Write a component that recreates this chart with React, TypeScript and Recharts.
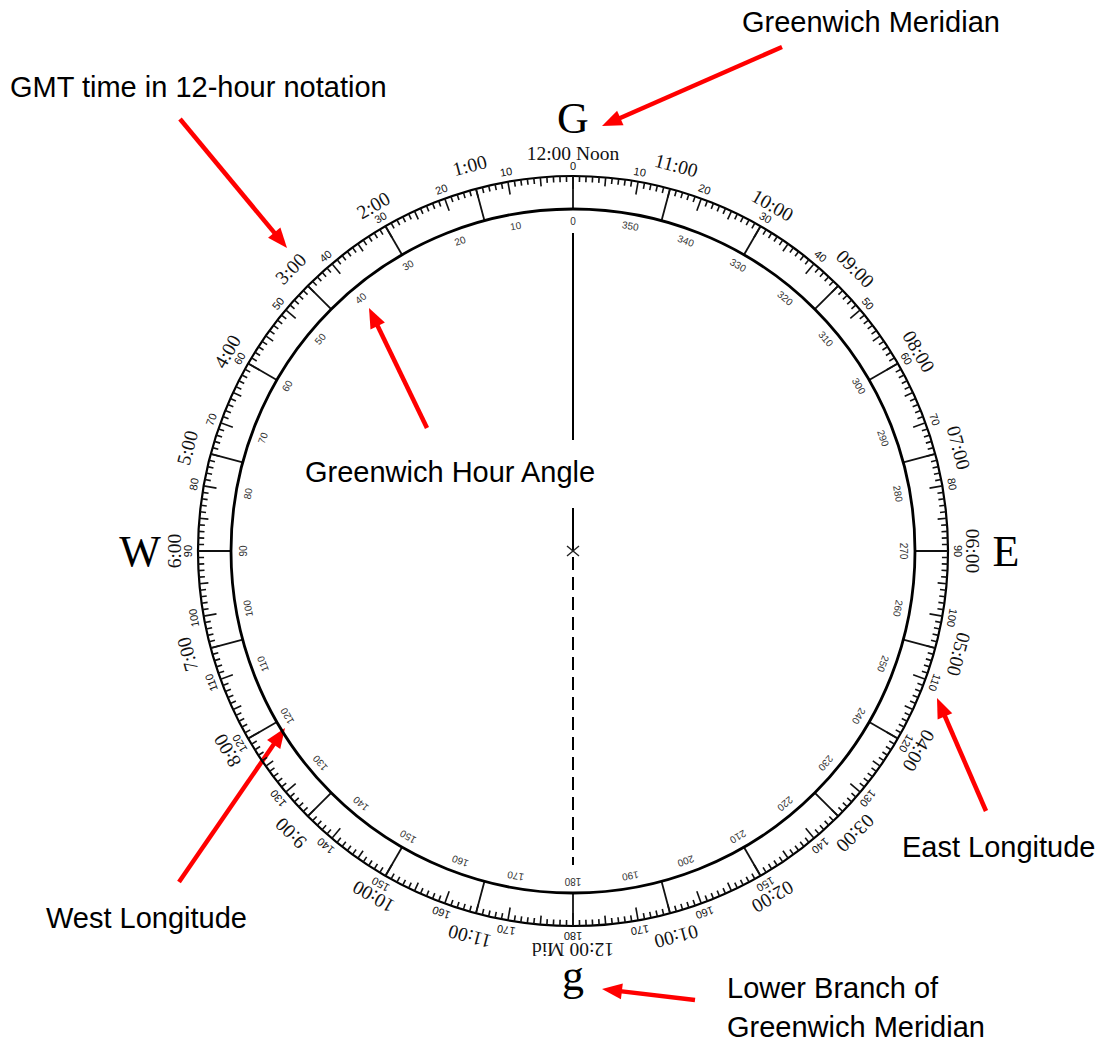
import React from 'react';
import { ScatterChart, Scatter, XAxis, YAxis, ReferenceLine, ReferenceDot } from 'recharts';

const WIDTH = 1101;
const HEIGHT = 1043;
// pixel position of the dial centre, the axes are laid out 1 unit = 1 px around it
const CENTER_X = 573;
const CENTER_Y = 551;

const OUTER_R = 375;
const INNER_R = 342;

const LONGITUDE_LABELS = [0, 10, 20, 30, 40, 50, 60, 70, 80, 90, 100, 110, 120, 130, 140, 150, 160, 170, 180];
const GHA_LABELS = [
  0, 10, 20, 30, 40, 50, 60, 70, 80, 90, 100, 110, 120, 130, 140, 150, 160, 170, 180,
  190, 200, 210, 220, 230, 240, 250, 260, 270, 280, 290, 300, 310, 320, 330, 340, 350,
];
const HOURS_WEST = ['1:00', '2:00', '3:00', '4:00', '5:00', '6:00', '7:00', '8:00', '9:00', '10:00', '11:00'];
const HOURS_EAST = ['11:00', '10:00', '09:00', '08:00', '07:00', '06:00', '05:00', '04:00', '03:00', '02:00', '01:00'];
const MERIDIAN_LABELS = ['12:00 Noon', '12:00 Mid'];
const CARDINALS = ['G', 'E', 'g', 'W'];

const NOTES = [
  'Greenwich Meridian',
  'GMT time in 12-hour notation',
  'Greenwich Hour Angle',
  'East Longitude',
  'West Longitude',
  'Lower Branch of',
  'Greenwich Meridian',
];
// page pixel positions of the notes (left, baseline) and arrows (from -> tip)
const NOTE_POS = [[742, 32], [10, 97], [305, 482], [902, 857], [46, 928], [727, 998], [727, 1037]];
const ARROWS = [
  [782, 47, 602, 126],
  [180, 119, 287, 248],
  [427, 428, 369, 308],
  [986, 811, 937, 698],
  [179, 882, 285, 728],
  [695, 1000, 602, 989],
];

const SERIF = "'Liberation Serif', 'Times New Roman', serif";
const SANS = "'Liberation Sans', Arial, Helvetica, sans-serif";

const polar = (r: number, deg: number) => {
  const a = (deg * Math.PI) / 180;
  return { x: r * Math.sin(a), y: r * Math.cos(a) };
};
const fromPage = (px: number, py: number) => ({ x: px - CENTER_X, y: CENTER_Y - py });

// built from the arrays above
const degreeTicks = Array.from({ length: 360 }, (_, d) => ({ ...polar(OUTER_R, d), rot: d, deg: d }));
const longitudeData = [
  ...LONGITUDE_LABELS.map((v) => ({ ...polar(385, v), rot: v, text: String(v) })),
  ...LONGITUDE_LABELS.filter((v) => v !== 0 && v !== 180).map((v) => ({ ...polar(385, -v), rot: -v, text: String(v) })),
];
const ghaData = GHA_LABELS.map((v) => ({ ...polar(330, -v), rot: -v, text: String(v) }));
const hourData = [
  ...HOURS_WEST.map((t, i) => ({ ...polar(399, -15 * (i + 1)), rot: -15 * (i + 1), text: t })),
  ...HOURS_EAST.map((t, i) => ({ ...polar(399, 15 * (i + 1)), rot: 15 * (i + 1), text: t })),
  { ...polar(398, 0), rot: 0, text: MERIDIAN_LABELS[0] },
  { ...polar(398, 180), rot: 180, text: MERIDIAN_LABELS[1] },
];
const cardinalData = CARDINALS.map((t, i) => ({ ...polar(i === 2 ? 424 : 433, i * 90), rot: 0, text: t }));
const noteData = NOTES.map((t, i) => ({ ...fromPage(NOTE_POS[i][0], NOTE_POS[i][1]), text: t }));
const hourLines = Array.from({ length: 24 }, (_, h) => [polar(INNER_R, h * 15), polar(OUTER_R, h * 15)]);

const rotatedText = (style: Record<string, any>) => (props: any) => {
  const { cx, cy, payload } = props;
  return (
    <text
      x={cx}
      y={cy}
      transform={`rotate(${payload.rot} ${cx} ${cy})`}
      textAnchor="middle"
      dominantBaseline="central"
      {...style}
    >
      {payload.text}
    </text>
  );
};

const TickMark = (props: any) => {
  const { cx, cy, payload } = props;
  const len = payload.deg % 10 === 0 ? 13 : payload.deg % 5 === 0 ? 9 : 6;
  return (
    <line
      x1={cx}
      y1={cy}
      x2={cx}
      y2={cy + len}
      transform={`rotate(${payload.rot} ${cx} ${cy})`}
      stroke="#111"
      strokeWidth={1.6}
    />
  );
};

const NoteText = (props: any) => {
  const { cx, cy, payload } = props;
  return (
    <text x={cx} y={cy} fontFamily={SANS} fontSize={29} fill="#000">
      {payload.text}
    </text>
  );
};

const Arrow = (props: any) => {
  const { x1, y1, x2, y2 } = props;
  const a = Math.atan2(y2 - y1, x2 - x1);
  const head = 20;
  const half = 8;
  const bx = x2 - head * Math.cos(a);
  const by = y2 - head * Math.sin(a);
  const nx = -Math.sin(a) * half;
  const ny = Math.cos(a) * half;
  return (
    <g>
      <line x1={x1} y1={y1} x2={bx + Math.cos(a) * 2} y2={by + Math.sin(a) * 2} stroke="#f00" strokeWidth={4.5} />
      <polygon points={`${x2},${y2} ${bx + nx},${by + ny} ${bx - nx},${by - ny}`} fill="#f00" />
    </g>
  );
};

const CenterCross = (props: any) => {
  const { cx, cy } = props;
  return (
    <g stroke="#222" strokeWidth={1.4}>
      <line x1={cx - 6} y1={cy - 5} x2={cx + 6} y2={cy + 5} />
      <line x1={cx - 6} y1={cy + 5} x2={cx + 6} y2={cy - 5} />
    </g>
  );
};

export default function App() {
  return (
    <div style={{ position: 'absolute', left: 0, top: 0, background: '#fff' }}>
      <ScatterChart width={WIDTH} height={HEIGHT} margin={{ top: 0, right: 0, bottom: 0, left: 0 }}>
        <XAxis type="number" dataKey="x" domain={[-CENTER_X, WIDTH - CENTER_X]} allowDataOverflow hide />
        <YAxis type="number" dataKey="y" domain={[CENTER_Y - HEIGHT, CENTER_Y]} allowDataOverflow hide />

        <ReferenceDot x={0} y={0} r={OUTER_R} fill="none" stroke="#000" strokeWidth={2.2} />
        <ReferenceDot x={0} y={0} r={INNER_R} fill="none" stroke="#000" strokeWidth={2.8} />

        {hourLines.map(([p1, p2], i) => (
          <ReferenceLine key={`hl-${i}`} segment={[p1, p2]} stroke="#111" strokeWidth={1.8} />
        ))}

        <Scatter data={degreeTicks} shape={TickMark} isAnimationActive={false} />
        <Scatter
          data={longitudeData}
          shape={rotatedText({ fontFamily: SANS, fontSize: 11, fill: '#111' })}
          isAnimationActive={false}
        />
        <Scatter
          data={ghaData}
          shape={rotatedText({ fontFamily: SANS, fontSize: 10, fill: '#333' })}
          isAnimationActive={false}
        />
        <Scatter
          data={hourData}
          shape={rotatedText({ fontFamily: SERIF, fontSize: 19.5, fill: '#111' })}
          isAnimationActive={false}
        />
        <Scatter
          data={cardinalData}
          shape={rotatedText({ fontFamily: SERIF, fontSize: 44, fill: '#000' })}
          isAnimationActive={false}
        />

        {/* meridian through the centre */}
        <ReferenceLine segment={[{ x: 0, y: 318 }, { x: 0, y: 111 }]} stroke="#000" strokeWidth={2} />
        <ReferenceLine segment={[{ x: 0, y: 43 }, { x: 0, y: 0 }]} stroke="#000" strokeWidth={2} />
        <ReferenceLine
          segment={[{ x: 0, y: -6 }, { x: 0, y: -314 }]}
          stroke="#000"
          strokeWidth={2}
          strokeDasharray="13 7"
        />
        <ReferenceDot x={0} y={0} r={6} shape={CenterCross} />

        <Scatter data={noteData} shape={NoteText} isAnimationActive={false} />
        {ARROWS.map(([ax, ay, bx, by], i) => (
          <ReferenceLine key={`ar-${i}`} segment={[fromPage(ax, ay), fromPage(bx, by)]} shape={Arrow} />
        ))}
      </ScatterChart>
    </div>
  );
}
